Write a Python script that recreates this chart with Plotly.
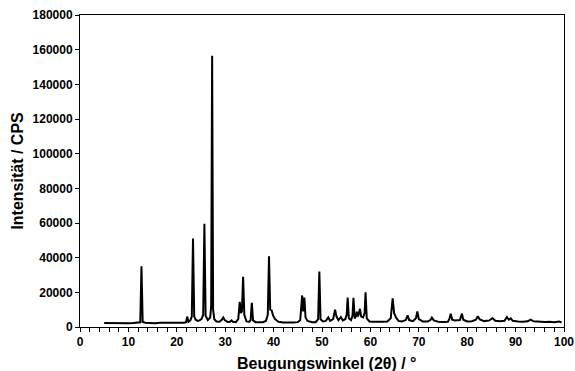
import plotly.graph_objects as go

# Powder diffraction profile: diffraction angle 2θ (°) and intensity (CPS)
two_theta = [
    5.0, 6.0, 7.0, 8.0, 9.0, 10.0, 11.0, 12.0, 12.45, 12.7, 12.95, 13.5,
    14.5, 15.5, 16.5, 17.5, 18.5, 19.5, 20.5, 21.5, 21.9, 22.15, 22.4, 22.8,
    23.1, 23.35, 23.6, 23.9, 24.3, 24.7, 25.1, 25.45, 25.7, 25.95, 26.4, 26.9,
    27.1, 27.3, 27.5, 27.75, 28.2, 28.8, 29.3, 29.6, 29.9, 30.5, 31.0, 31.3,
    31.6, 32.2, 32.7, 33.0, 33.25, 33.45, 33.7, 33.95, 34.4, 35.0, 35.25, 35.5,
    35.75, 36.3, 37.0, 37.8, 38.4, 38.8, 39.05, 39.3, 39.6, 39.9, 40.3, 41.0,
    42.0, 43.0, 44.0, 45.0, 45.5, 45.9, 46.1, 46.35, 46.6, 47.0, 47.5, 48.0,
    48.7, 49.2, 49.45, 49.7, 50.2, 50.8, 51.3, 51.7, 52.3, 52.7, 53.0, 53.4,
    53.9, 54.3, 54.8, 55.1, 55.3, 55.55, 56.0, 56.3, 56.5, 56.75, 57.0, 57.2,
    57.45, 57.85, 58.1, 58.5, 58.8, 59.0, 59.25, 59.8, 60.5, 61.5, 62.5, 63.5,
    64.2, 64.6, 64.9, 65.3, 65.8, 66.5, 67.3, 67.7, 68.0, 68.8, 69.4, 69.7,
    70.0, 70.8, 71.8, 72.4, 72.7, 73.1, 74.0, 75.0, 76.0, 76.3, 76.6, 76.9,
    77.5, 78.5, 78.9, 79.2, 80.0, 81.0, 81.8, 82.2, 82.6, 83.5, 84.6, 85.2,
    85.8, 86.8, 87.7, 88.2, 88.6, 89.0, 89.4, 90.5, 91.5, 92.5, 93.1, 93.7,
    95.0, 96.0, 97.0, 98.0, 99.0, 99.5,
]
intensity = [
    2300, 2200, 2300, 2200, 2300, 2200, 2300, 2400, 2700, 35000, 2900, 2500,
    2300, 2200, 2400, 2300, 2200, 2300, 2400, 2500, 2800, 6000, 3000, 3800,
    6000, 51000, 6000, 4200, 3500, 3800, 4500, 7000, 59500, 6500, 4000, 5500,
    12000, 156500, 10000, 4500, 3200, 3000, 4200, 5500, 4000, 2900, 3000, 3800,
    3000, 2800, 4500, 14500, 8000, 9000, 29000, 7000, 3200, 3000, 4000, 13900,
    3800, 2800, 2600, 2800, 3500, 7000, 40800, 10000, 9600, 6500, 4500, 3000,
    2600, 2500, 2600, 2800, 4000, 18200, 9000, 17000, 5500, 3500, 3000, 2800,
    2800, 4500, 32000, 4500, 3200, 3500, 5500, 3500, 4500, 10000, 6000, 4000,
    5800, 3800, 4500, 7000, 17000, 5000, 4000, 6500, 16800, 5000, 6000, 8800,
    6000, 10500, 6000, 5500, 8000, 20000, 5000, 3200, 3000, 2900, 3000, 3200,
    5000, 16500, 8000, 5500, 3500, 3200, 4000, 6700, 4000, 3400, 5000, 9000,
    4500, 3200, 3200, 4000, 5400, 3800, 3000, 2900, 3000, 4500, 7700, 4200,
    3800, 4000, 7700, 4200, 3200, 3300, 4200, 6200, 4300, 3400, 3800, 5200,
    3600, 3300, 3600, 5800, 4200, 5000, 3600, 3200, 3000, 3300, 4300, 3300,
    3000, 2900, 3000, 2800, 3200, 2600,
]

x_ticks = [0, 10, 20, 30, 40, 50, 60, 70, 80, 90, 100]
y_ticks = [0, 20000, 40000, 60000, 80000, 100000, 120000, 140000, 160000, 180000]

fig = go.Figure(
    go.Scatter(
        x=two_theta,
        y=intensity,
        mode="lines",
        line=dict(color="black", width=2),
        hoverinfo="x+y",
    )
)

tick_font = dict(family="Liberation Sans, Arial, sans-serif", size=12, color="black")
title_font = dict(family="Liberation Sans, Arial, sans-serif", size=16, color="black")

fig.update_layout(
    width=575,
    height=371,
    margin=dict(l=80, r=11, t=15, b=44),
    paper_bgcolor="white",
    plot_bgcolor="white",
    showlegend=False,
    font=tick_font,
    annotations=[
        dict(
            text="<b>Intensität / CPS</b>",
            x=-0.131, y=0.5, xref="paper", yref="paper",
            textangle=-90, showarrow=False, font=title_font,
            xanchor="center", yanchor="middle",
        ),
        dict(
            text="<b>Beugungswinkel (2θ) / °</b>",
            x=0.51, y=-0.117, xref="paper", yref="paper",
            showarrow=False, font=title_font,
            xanchor="center", yanchor="middle",
        ),
    ],
)

fig.update_xaxes(
    range=[0, 100],
    automargin=False,
    tickvals=x_ticks,
    ticktext=[f"<b>{v}</b>" for v in x_ticks],
    ticks="outside",
    ticklen=4,
    tickcolor="black",
    minor=dict(dtick=2, ticks="outside", ticklen=4, tickcolor="black", showgrid=False),
    showline=True,
    linecolor="black",
    linewidth=1,
    mirror=True,
    showgrid=False,
    zeroline=False,
)
fig.update_yaxes(
    range=[0, 180000],
    automargin=False,
    tickvals=y_ticks,
    ticktext=[f"<b>{v}</b>" for v in y_ticks],
    ticks="outside",
    ticklen=4,
    tickcolor="black",
    showline=True,
    linecolor="black",
    linewidth=1,
    mirror=True,
    showgrid=False,
    zeroline=False,
)

fig.write_html("out.html")
